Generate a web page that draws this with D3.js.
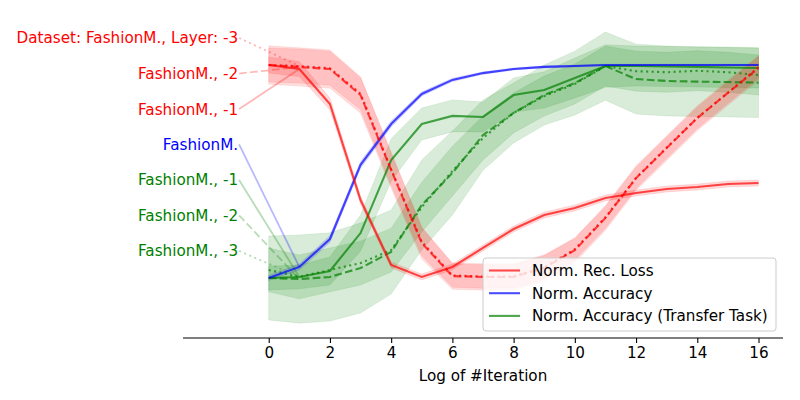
<!DOCTYPE html>
<html>
<head>
<meta charset="utf-8">
<script src="https://cdn.jsdelivr.net/npm/d3@7/dist/d3.min.js"></script>
<style>
  html, body { margin: 0; padding: 0; background: #fff; }
  svg { display: block; font-family: "DejaVu Sans", sans-serif; }
</style>
</head>
<body>
<svg id="chart" width="800" height="400"></svg>
<script>
// ---------- data ----------
const iterations = [0,1,2,3,4,5,6,7,8,9,10,11,12,13,14,15,16];
const xTicks = [0,2,4,6,8,10,12,14,16];

// Norm. Rec. Loss (red), layers -1, -2, -3
const recLoss1 = [1.0,0.981,0.817,0.366,0.061,0.005,0.052,0.141,0.230,0.296,0.329,0.376,0.399,0.418,0.427,0.441,0.446];
const recLoss1Sd = [0.038,0.035,0.028,0.018,0.014,0.014,0.014,0.014,0.014,0.014,0.014,0.014,0.014,0.014,0.014,0.014,0.014];
const recLoss2 = [1.0,0.991,0.981,0.859,0.507,0.164,0.009,0.005,0.005,0.047,0.131,0.282,0.469,0.610,0.751,0.869,0.986];
const recLoss2Sd = [0.09,0.09,0.09,0.085,0.085,0.075,0.062,0.062,0.062,0.062,0.058,0.058,0.058,0.058,0.058,0.058,0.058];
const recLoss3 = [1.0,0.995,0.985,0.865,0.510,0.170,0.012,0.007,0.008,0.050,0.135,0.285,0.470,0.612,0.752,0.870,0.990];
const recLoss3Sd = [0.08,0.08,0.08,0.075,0.075,0.065,0.055,0.055,0.055,0.055,0.05,0.05,0.05,0.05,0.05,0.05,0.05];

// Norm. Accuracy (blue)
const acc = [0,0.052,0.183,0.531,0.723,0.864,0.930,0.962,0.981,0.991,0.995,1,1,1,1,1,1];
const accSd = [0.012,0.014,0.016,0.016,0.014,0.01,0.008,0.006,0.005,0.005,0.004,0.004,0.004,0.004,0.004,0.004,0.004];

// Norm. Accuracy (Transfer Task) (green), layers -1, -2, -3
const transfer1 = [0,0.005,0.033,0.211,0.554,0.723,0.761,0.756,0.859,0.883,0.939,0.995,0.995,0.993,0.991,0.988,0.986];
const transfer1Sd = [0.056,0.056,0.066,0.085,0.10,0.075,0.075,0.07,0.08,0.085,0.094,0.10,0.094,0.094,0.094,0.094,0.094];
const transfer2 = [0,-0.005,0.005,0.047,0.122,0.343,0.493,0.671,0.775,0.859,0.915,0.995,0.934,0.925,0.922,0.920,0.917];
const transfer2Sd = [0.197,0.207,0.207,0.211,0.197,0.211,0.197,0.165,0.141,0.141,0.150,0.160,0.164,0.164,0.164,0.164,0.164];
const transfer3 = [0.038,0.005,0.038,0.070,0.131,0.333,0.502,0.657,0.775,0.854,0.911,0.995,0.971,0.966,0.973,0.966,0.953];
const transfer3Sd = [0.103,0.103,0.103,0.103,0.103,0.117,0.117,0.103,0.094,0.094,0.094,0.094,0.094,0.094,0.094,0.094,0.094];

const labelTexts = ["Dataset: FashionM., Layer: -3","FashionM., -2","FashionM., -1","FashionM.","FashionM., -1","FashionM., -2","FashionM., -3"];
const labelY = [1.127,0.960,0.793,0.627,0.460,0.294,0.127];
const legendNames = ["Norm. Rec. Loss","Norm. Accuracy","Norm. Accuracy (Transfer Task)"];

// ---------- series definitions ----------
const RED = "#ff0000", BLUE = "#0000ff", GREEN = "#008000";
const DASH = "7.7,3.3", DOT = "2.1,3.4";
const FS = "15.2px";
const series = [
  {vals: transfer1, sd: transfer1Sd, color: GREEN, dash: null, bandA: 0.15},
  {vals: transfer2, sd: transfer2Sd, color: GREEN, dash: DASH, bandA: 0.15},
  {vals: transfer3, sd: transfer3Sd, color: GREEN, dash: DOT, bandA: 0.15},
  {vals: acc, sd: accSd, color: BLUE, dash: null, bandA: 0.15},
  {vals: recLoss1, sd: recLoss1Sd, color: RED, dash: null, bandA: 0.15},
  {vals: recLoss2, sd: recLoss2Sd, color: RED, dash: DASH, bandA: 0.13},
  {vals: recLoss3, sd: recLoss3Sd, color: RED, dash: DOT, bandA: 0.13},
];
// label order -> series
const labelSeries = [series[6], series[5], series[4], series[3], series[0], series[1], series[2]];

// ---------- scales ----------
const svg = d3.select("#chart");
const x = d3.scaleLinear().domain([-2.80, 16.80]).range([183, 783]);
const y = d3.scaleLinear().domain([0, 1]).range([278, 65]);

// bands
const area = d3.area()
  .x((d, i) => x(iterations[i]))
  .y0(d => y(d[0] - d[1]))
  .y1(d => y(d[0] + d[1]));
const line = d3.line().x((d, i) => x(iterations[i])).y(d => y(d));

const gBands = svg.append("g");
series.forEach(s => {
  gBands.append("path")
    .datum(s.vals.map((v, i) => [v, s.sd[i]]))
    .attr("d", area)
    .attr("fill", s.color)
    .attr("fill-opacity", s.bandA)
    .attr("stroke", s.color)
    .attr("stroke-opacity", s.bandA * 0.6)
    .attr("stroke-width", 1);
});

// connector lines and labels
const gLab = svg.append("g");
labelSeries.forEach((s, k) => {
  gLab.append("line")
    .attr("x1", x(-1) + 1).attr("y1", y(labelY[k]))
    .attr("x2", x(1)).attr("y2", y(s.vals[1]))
    .attr("stroke", s.color).attr("stroke-opacity", 0.28)
    .attr("stroke-width", 1.8)
    .attr("stroke-dasharray", s.dash);
  gLab.append("text")
    .attr("x", x(-1)).attr("y", y(labelY[k]))
    .attr("dy", "0.36em")
    .attr("text-anchor", "end")
    .attr("font-size", FS)
    .attr("fill", s.color)
    .text(labelTexts[k]);
});

// lines
const gLines = svg.append("g");
series.forEach(s => {
  gLines.append("path")
    .datum(s.vals)
    .attr("d", line)
    .attr("fill", "none")
    .attr("stroke", s.color)
    .attr("stroke-opacity", 0.7)
    .attr("stroke-width", 2.1)
    .attr("stroke-dasharray", s.dash);
});

// x axis
const axis = d3.axisBottom(x).tickValues(xTicks).tickSize(4.9).tickPadding(4).tickFormat(d3.format("d"));
const gx = svg.append("g").attr("transform", "translate(0,338)").call(axis);
gx.select(".domain").attr("stroke", "#000").attr("stroke-width", 1.1).attr("d", "M183,0H783");
gx.selectAll(".tick line").attr("stroke", "#000").attr("stroke-width", 1.1);
gx.selectAll(".tick text").attr("font-size", FS).attr("fill", "#000").attr("font-family", "DejaVu Sans");
svg.append("text")
  .attr("x", 483).attr("y", 381)
  .attr("text-anchor", "middle")
  .attr("font-size", FS)
  .text("Log of #Iteration");

// legend
const leg = svg.append("g");
leg.append("rect")
  .attr("x", 483).attr("y", 258).attr("width", 293).attr("height", 73)
  .attr("rx", 3).attr("fill", "#fff").attr("fill-opacity", 0.8)
  .attr("stroke", "#cccccc").attr("stroke-width", 1);
const legColors = [RED, BLUE, GREEN];
legendNames.forEach((n, i) => {
  const yy = 270.5 + i * 22.7;
  leg.append("line").attr("x1", 489).attr("x2", 520).attr("y1", yy).attr("y2", yy)
    .attr("stroke", legColors[i]).attr("stroke-opacity", 0.7).attr("stroke-width", 2.1);
  leg.append("text").attr("x", 532).attr("y", yy).attr("dy", "0.36em")
    .attr("font-size", FS).attr("fill", "#000").text(n);
});
</script>
</body>
</html>
